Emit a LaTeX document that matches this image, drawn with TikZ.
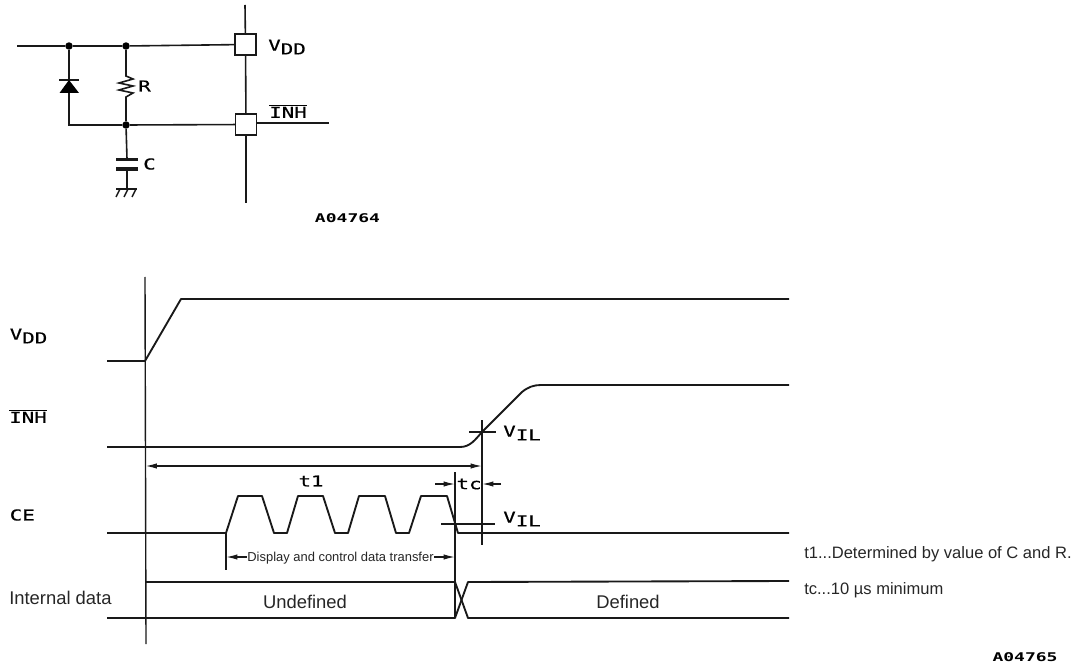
\documentclass[tikz,border=0pt]{standalone}
\usepackage{fontspec}
\usepackage{graphicx}
\setmainfont{Liberation Sans}
\newfontfamily\draft[FakeStretch=1.38,FakeBold=0.5]{DejaVu Sans Mono}
\newfontfamily\draftbf[FakeStretch=1.5,BoldFont={DejaVu Sans Mono Bold}]{DejaVu Sans Mono}
\usetikzlibrary{arrows.meta,calc}
\newcommand{\lab}[2]{{\draft #1\raisebox{-2.8pt}{#2}}}
\newcommand{\inh}{{\draft$\overline{\hbox{\draft INH}}$}}
\tikzset{
  wire/.style={line width=1.2pt,black!90},
  thin wire/.style={line width=1.05pt,black!90},
  sig/.style={line width=1.4pt,black!90,line join=round},
  pad/.style={draw=black!90,line width=1.2pt,fill=white,minimum width=15.5pt,minimum height=15.5pt,inner sep=0pt},
  jdot/.style={circle,fill=black,inner sep=0pt,minimum size=5.6pt},
  tag/.style={font=\draft\fontsize{11.3}{13}\selectfont,inner sep=0pt},
  small tag/.style={font=\draftbf\bfseries\fontsize{9}{10}\selectfont,inner sep=0pt},
  prose/.style={font=\fontsize{13.8}{16}\selectfont,inner sep=0pt,text=black!85},
  note/.style={font=\fontsize{12.4}{14}\selectfont,inner sep=0pt,anchor=west,text=black!85},
  tinytext/.style={font=\fontsize{9.7}{11}\selectfont,inner sep=0.6pt,fill=white,text=black!85},
  dim/.style={line width=1pt,black!90,-{Latex[length=8.5pt,width=4pt]}},
  ddim/.style={line width=1pt,black!90,{Latex[length=8.5pt,width=4pt]}-{Latex[length=8.5pt,width=4pt]}},
}
\begin{document}
\begin{tikzpicture}[x=0.75pt,y=-0.75pt]
\useasboundingbox (0,0) rectangle (1080,666);
% ---------- circuit ----------
\node[pad] (vddpad) at (245.5,44.5) {};
\node[pad] (inhpad) at (246,124.5) {};
\node[jdot] (j1) at (69,46) {};
\node[jdot] (j2) at (126,46) {};
\node[jdot] (j3) at (126,125) {};
\coordinate (in) at (17,46);
\coordinate (vtop) at (245,5);
\coordinate (vbot) at (246,203);
\coordinate (inhout) at (329,123);
\coordinate (dcorner) at (69,125);
\draw[wire] (in) -- (j1) -- (j2) -- (vddpad);
\draw[wire] (vtop) -- (vddpad) -- (inhpad) -- (vbot);
\draw[wire] (j3) -- (inhpad);
\draw[wire] (inhpad.east |- inhout) -- (inhout);
% diode
\coordinate (dk) at (69,80);
\coordinate (da) at (69,93);
\draw[wire] (j1) -- (dk);
\draw[wire] (da) -- (dcorner) -- (j3);
\draw[wire] (59,80) -- (79,80);
\fill[black] (59.5,93) -- (79,93) -- (69,80) -- cycle;
% resistor
\coordinate (rt) at (126,76);
\coordinate (rb) at (126,97);
\draw[wire] (j2) -- (rt) -- (133,79) -- (119,83) -- (133,86) -- (119,90) -- (133,93) -- (rb) -- (j3);
\node[tag] (rl) at (144.5,86) {R};
% capacitor
\coordinate (ct) at (127,159);
\coordinate (cb) at (127,169);
\coordinate (gnd) at (127,189);
\draw[wire] (j3) -- (ct);
\draw[line width=2.4pt,black!90] (116,159.5) -- (138,159.5);
\draw[line width=2.4pt,black!90] (116,169) -- (138,169);
\draw[wire] (cb) -- (gnd);
\draw[wire] (116,189) -- (137,189);
\draw[thin wire] (120,189) -- (116,197) (128,189) -- (124,197) (136,189) -- (132,197);
\node[tag] (cl) at (149.5,164) {C};
\node[tag,anchor=west] (vl) at (268,47) {\lab{V}{DD}};
\node[tag,anchor=west] (il) at (269,111) {\inh};
\node[small tag] (a1) at (347.5,218) {A04764};
% ---------- timing axes ----------
\coordinate (t0top) at (145,277);
\coordinate (t0bot) at (146,644);
\draw[thin wire] (t0top) -- (t0bot);
% VDD
\draw[sig] (107,361) -- (145,361) -- (181,299) -- (789,299);
% INH
\coordinate (vilA) at (482,432);
\draw[sig] (107,447) -- (460,447) .. controls (470,447) and (475,440) .. (vilA) -- (522,392) .. controls (528,387) and (534,385) .. (541,385) -- (789,385);
% CE
\draw[sig] (107,533) -- (226,533)
  -- (238,496) -- (262,496) -- (274,533) -- (287,533)
  -- (298,496) -- (323,496) -- (335,533) -- (348,533)
  -- (359,496) -- (385,496) -- (396,533) -- (409,533)
  -- (421,496) -- (447,496) -- (458,533) -- (789,533);
% internal data
\draw[sig] (145,582) -- (455,582) -- (468,618) -- (789,618);
\draw[sig] (107,618) -- (455,618) -- (468,582) -- (789,581);
% guide lines
\coordinate (g1t) at (482,420);
\coordinate (g1b) at (482,545);
\coordinate (g2t) at (455,472);
\coordinate (g2b) at (455,618);
\coordinate (g3t) at (226,533);
\coordinate (g3b) at (226,570);
\draw[thin wire] (g1t) -- (g1b);
\draw[thin wire] (g2t) -- (g2b);
\draw[thin wire] (g3t) -- (g3b);
\draw[thin wire] (469,432) -- (496,432);
\draw[thin wire] (441,524) -- (495,524);
% dimensions
\draw[ddim] (145.5,466) -- (482,466);
\draw[dim] (435,484) -- (455,484);
\draw[dim] (501,484) -- (482,484);
\draw[ddim] (226,557) -- (455,557);
\node[tinytext] (dt) at (340.5,558) {Display and control data transfer};
\node[tag] (t1l) at (311,481) {t1};
\node[tag] (tcl) at (469,484) {tc};
\node[tag,anchor=west] (v1) at (503,433) {\lab{V}{IL}};
\node[tag,anchor=west] (v2) at (503,519) {\lab{V}{IL}};
% left labels
\node[tag,anchor=west] (lv) at (9.5,336) {\lab{V}{DD}};
\node[tag,anchor=west] (li) at (9,416) {\inh};
\node[tag,anchor=west] (lc) at (9.5,515) {CE};
\node[prose,anchor=west] (ld) at (9,598) {Internal data};
\node[prose] (un) at (305,602) {Undefined};
\node[prose] (de) at (628,602) {Defined};
% notes
\node[note] (n1) at (804,554) {t1...Determined by value of C and R.};
\node[note] (n2) at (804,590) {tc...10 µs minimum};
\node[small tag] (a2) at (1025,657) {A04765};
\end{tikzpicture}
\end{document}
